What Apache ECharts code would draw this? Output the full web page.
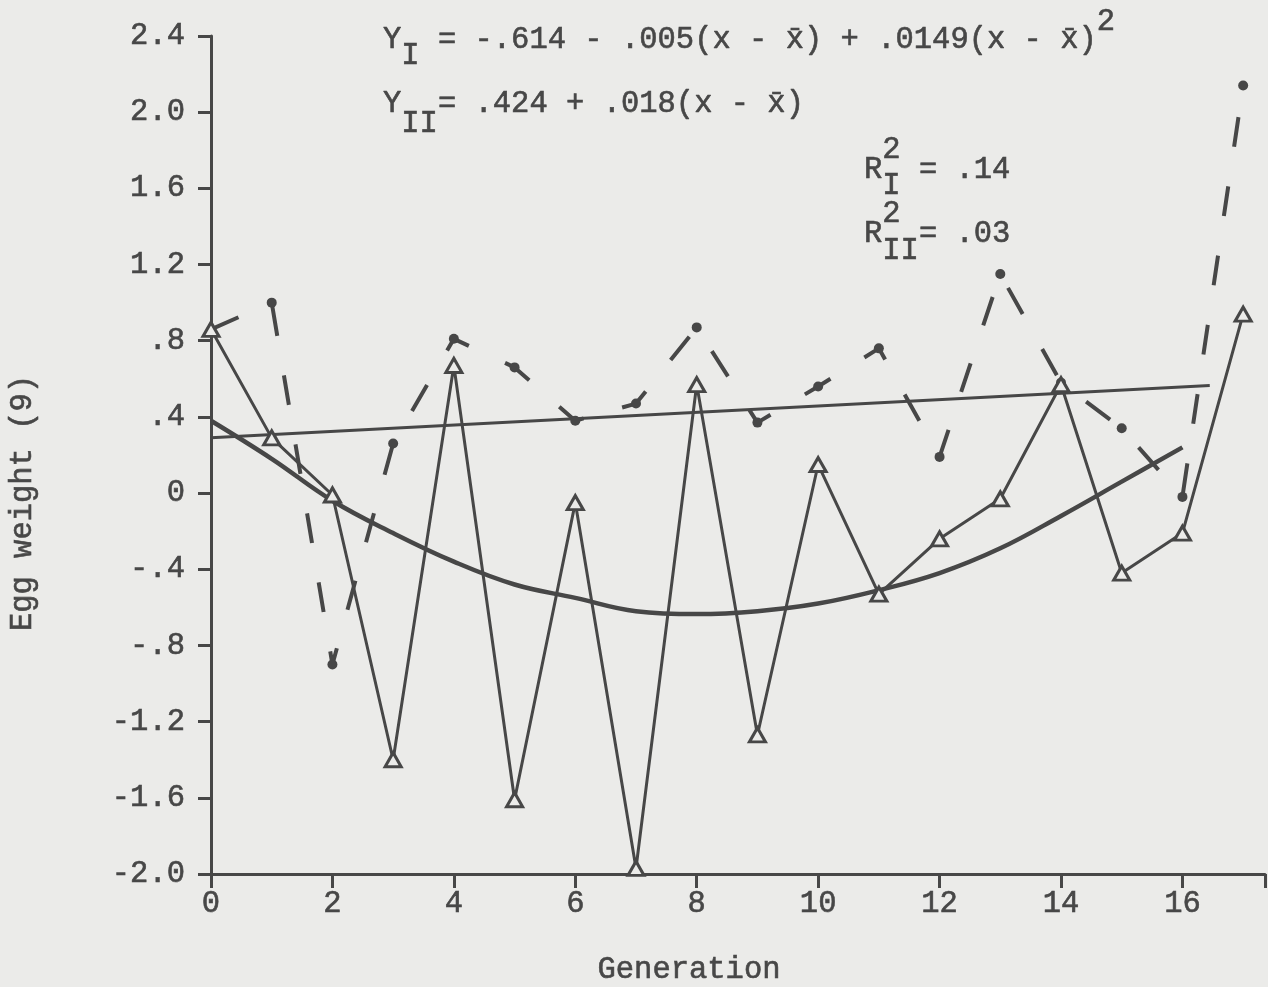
<!DOCTYPE html>
<html>
<head>
<meta charset="utf-8">
<script src="https://cdn.jsdelivr.net/npm/echarts@6/dist/echarts.min.js"></script>
<style>
html,body{margin:0;padding:0;background:#ebebe9;}
#c{width:1268px;height:987px;}
</style>
</head>
<body>
<div id="c"></div>
<script>
// ---- data ----
var generations = [0,1,2,3,4,5,6,7,8,9,10,11,12,13,14,15,16,17];
var seriesI  = [0.86, 0.29, -0.01, -1.40, 0.67, -1.61, -0.05, -1.97, 0.57, -1.27, 0.15, -0.53, -0.24, -0.03, 0.57, -0.42, -0.21, 0.94];
var seriesII = [0.86, 1.00, -0.90, 0.26, 0.81, 0.66, 0.38, 0.47, 0.87, 0.37, 0.56, 0.76, 0.19, 1.15, 0.58, 0.34, -0.02, 2.14];
var fitIIx = [0, 16.45];
var fitIIy = [0.29, 0.565];
var fitIx = [0,1,2,3,4,5,6,7,8,9,10,11,12,13,14,15,16];
var fitIy = [0.38, 0.18, -0.04, -0.21, -0.36, -0.48, -0.55, -0.62, -0.635, -0.62, -0.58, -0.51, -0.42, -0.29, -0.12, 0.06, 0.24];
var yTickValues = [-2.0,-1.6,-1.2,-0.8,-0.4,0,0.4,0.8,1.2,1.6,2.0,2.4];
var yTickLabels = ['-2.0','-1.6','-1.2','-.8','-.4','0','.4','.8','1.2','1.6','2.0','2.4'];
var xTickValues = [0,2,4,6,8,10,12,14,16];
var xTickLabels = ['0','2','4','6','8','10','12','14','16'];

// ---- styling ----
var INK = '#474747';
var BG = '#ebebe9';
var FS = 30.5;
var FONT = FS + 'px "Liberation Mono", "DejaVu Sans Mono", monospace';
var PITCH = FS * 0.6;

function pairs(xs, ys){ return xs.map(function(x,i){ return [x, ys[i]]; }); }

function txt(s, x, y){
  return {
    type:'text', x:x, y:y, z:100,
    style:{ text:s, font:FONT, fill:INK, stroke:INK, lineWidth:0.6, align:'left', textAlign:'left', verticalAlign:'middle', textVerticalAlign:'middle' }
  };
}
function col(base, c){ return base + c*PITCH; }

var L1 = 383, L3 = 864;
var graphics = [
  txt('Y  = -.614 - .005(x - x\u0304) + .0149(x - x\u0304)', col(L1,0), 40),
  txt('I', col(L1,1), 56),
  txt('2', col(L1,39), 22),
  txt('Y  = .424 + .018(x - x\u0304)', col(L1,0), 104),
  txt('II', col(L1,1), 124),
  txt('R  = .14', col(L3,0), 170),
  txt('2', col(L3,1), 150),
  txt('I', col(L3,1), 186),
  txt('R  = .03', col(L3,0), 234),
  txt('2', col(L3,1), 214),
  txt('II', col(L3,1), 251),
  { type:'text', x:689, y:970, z:100,
    style:{ text:'Generation', font:FONT, fill:INK, stroke:INK, lineWidth:0.6, align:'center', textAlign:'center', verticalAlign:'middle', textVerticalAlign:'middle' } },
  { type:'text', x:23, y:503, rotation:Math.PI/2, z:100,
    style:{ text:'Egg weight (9)', font:FONT, fill:INK, stroke:INK, lineWidth:0.6, align:'center', textAlign:'center', verticalAlign:'middle', textVerticalAlign:'middle' } }
];

var chart = echarts.init(document.getElementById('c'), null, {renderer:'canvas'});
var option = {
  backgroundColor: BG,
  animation: false,
  grid: { left:211, right:0, top:36, bottom:113, containLabel:false },
  xAxis: {
    type:'value', min:0, max:17.36, interval:2,
    axisLine:{ show:true, onZero:false, lineStyle:{ color:INK, width:3 } },
    axisTick:{ show:true, length:14, lineStyle:{ color:INK, width:3 } },
    splitLine:{ show:false },
    axisLabel:{
      margin:14, color:INK, fontFamily:'Liberation Mono', fontSize:FS,
      textBorderColor:INK, textBorderWidth:0.6,
      formatter:function(v){ var i = xTickValues.indexOf(Math.round(v*100)/100); return i>=0 ? xTickLabels[i] : ''; }
    }
  },
  yAxis: {
    type:'value', min:-2.0, max:2.4, interval:0.4,
    axisLine:{ show:true, onZero:false, lineStyle:{ color:INK, width:3 } },
    axisTick:{ show:true, length:13, lineStyle:{ color:INK, width:3 } },
    splitLine:{ show:false },
    axisLabel:{
      margin:26, color:INK, fontFamily:'Liberation Mono', fontSize:FS,
      textBorderColor:INK, textBorderWidth:0.6,
      formatter:function(v){ var r = Math.round(v*10)/10; var i = yTickValues.indexOf(r); return i>=0 ? yTickLabels[i] : ''; }
    }
  },
  series: [
    {
      name:'Fit II', type:'line', data:pairs(fitIIx, fitIIy), symbol:'none',
      lineStyle:{ color:INK, width:3 }, z:2, silent:true
    },
    {
      name:'Fit I', type:'line', data:pairs(fitIx, fitIy), symbol:'none', smooth:0.4,
      lineStyle:{ color:INK, width:4.5 }, z:2, silent:true
    },
    {
      name:'II', type:'line',
      data: generations.map(function(g,i){
        var d = { value:[g, seriesII[i]] };
        if (i === 0) d.symbol = 'none';
        return d;
      }),
      symbol:'circle', symbolSize:10,
      itemStyle:{ color:INK },
      lineStyle:{ color:INK, width:4, type:[30,40], cap:'butt' }, z:3, silent:true
    },
    {
      name:'I', type:'line', data:pairs(generations, seriesI),
      symbol:'triangle', symbolSize:[16,14],
      itemStyle:{ color:BG, borderColor:INK, borderWidth:3 },
      lineStyle:{ color:INK, width:3 }, z:4, silent:true
    }
  ],
  graphic: graphics
};
chart.setOption(option);
</script>
</body>
</html>
